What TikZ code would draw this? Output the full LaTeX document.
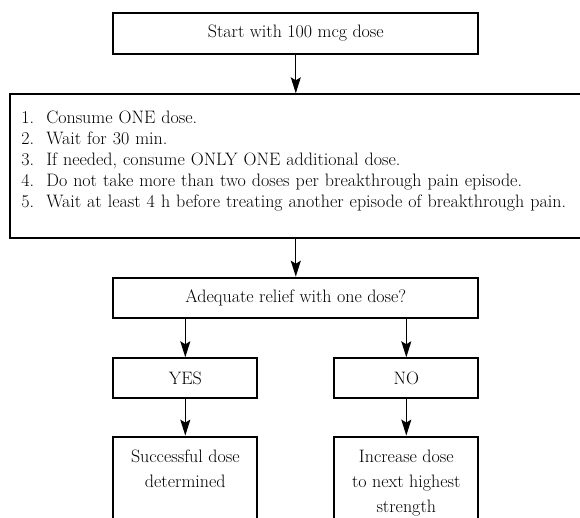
\documentclass[tikz,border=0pt]{standalone}
\usetikzlibrary{arrows.meta,positioning}
\tikzset{
    box/.style={
        rectangle,
        draw=black,
        line width=2pt,
        minimum height=40pt,
        font=\fontsize{18}{21}\selectfont,
    },
    widebox/.style={
        box,
        minimum width=365pt,
    },
    answer/.style={
        box,
        minimum width=144pt,
    },
    result/.style={
        box,
        inner xsep=0pt,
        inner ysep=13pt,
        font=\fontsize{18}{25}\selectfont,
    },
    flow/.style={
        draw,
        line width=1.3pt,
        -{Stealth[length=16pt,width=10pt,inset=3pt]},
    },
    node distance=37pt,
}

\begin{document}
\begin{tikzpicture}
    \path[use as bounding box, clip] (0pt,0pt) rectangle (580pt,-518pt);

    \node [widebox, minimum height=41.3pt] (start) at (295.8pt,-33.4pt) {Start with 100 mcg dose};
    \node [box, anchor=north west, text width=598pt, inner xsep=11pt, align=left, minimum height=144pt] (steps) at (9.3pt,-93.3pt)
        {\begin{tabular}{@{}p{25pt}@{}l@{}}
            1. & Consume ONE dose.\\
            2. & Wait for 30 min.\\
            3. & If needed, consume ONLY ONE additional dose.\\
            4. & Do not take more than two doses per breakthrough pain episode.\\
            5. & Wait at least 4 h before treating another episode of breakthrough pain.\\[9pt]
        \end{tabular}};
    \coordinate (gap) at (start |- steps.south);

    \node [widebox, below=37.4pt of gap] (question) {Adequate relief with one dose?};
    \node [answer, below=38.6pt of question.south west, anchor=north west] (yes) {YES};
    \node [answer, below=38.6pt of question.south east, anchor=north east] (no) {NO};

    \node [result, below=36.3pt of yes] (success) {\parbox[t][100pt][t]{144pt}{\centering Successful dose\\determined}};
    \node [result, below=36.3pt of no] (increase) {\parbox[t][100pt][t]{144pt}{\centering Increase dose\\to next highest\\strength}};

    \draw[flow] (start) -- (start |- steps.north);
    \draw[flow] (gap) -- (question);
    \draw[flow] (question.south -| yes) -- (yes);
    \draw[flow] (question.south -| no) -- (no);
    \draw[flow] (yes) -- (success);
    \draw[flow] (no) -- (increase);
\end{tikzpicture}
\end{document}
